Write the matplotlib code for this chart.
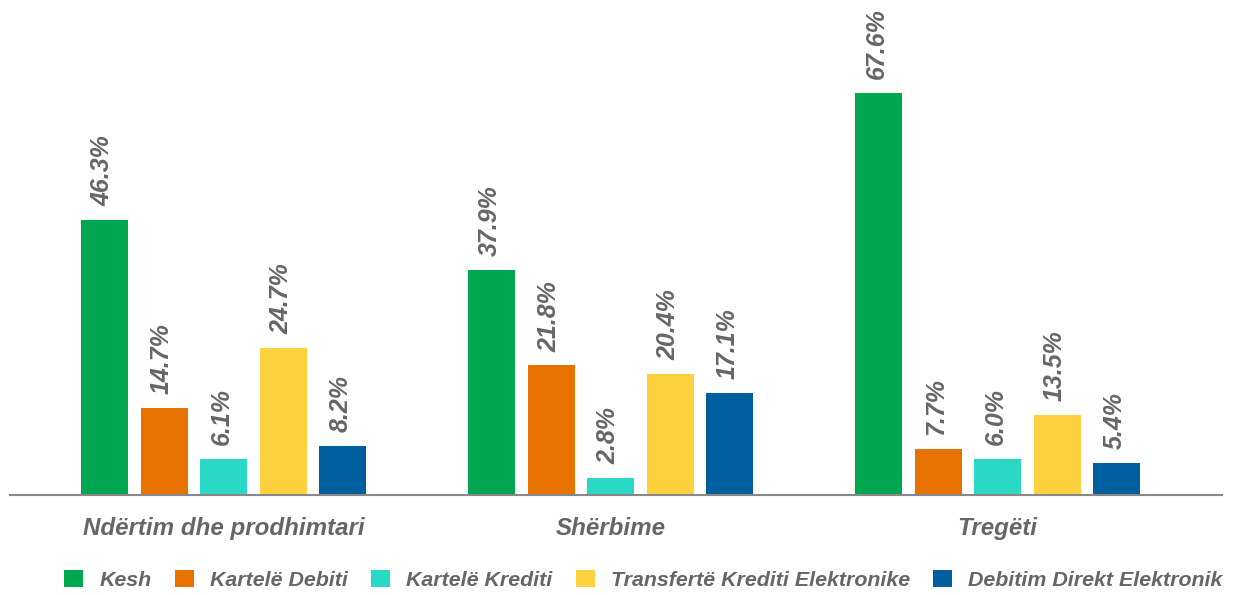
import matplotlib
matplotlib.use("Agg")
import matplotlib.pyplot as plt
import numpy as np

categories = ["Ndërtim dhe prodhimtari", "Shërbime", "Tregëti"]
series_names = ["Kesh", "Kartelë Debiti", "Kartelë Krediti",
                "Transfertë Krediti Elektronike", "Debitim Direkt Elektronik"]
kesh = [46.3, 37.9, 67.6]
kartele_debiti = [14.7, 21.8, 7.7]
kartele_krediti = [6.1, 2.8, 6.0]
transferte = [24.7, 20.4, 13.5]
debitim = [8.2, 17.1, 5.4]
series_values = [kesh, kartele_debiti, kartele_krediti, transferte, debitim]
colors = ["#00A650", "#E87200", "#2AD9C5", "#FDD03D", "#005F9E"]

plt.rcParams['font.family'] = ['Liberation Sans', 'DejaVu Sans']
text_color = "#666666"

fig = plt.figure(figsize=(12.35, 5.95), dpi=100)
W, H = 1235, 595
ax = fig.add_axes([10 / W, (H - 495) / H, 1212 / W, 495 / H])

x = np.arange(len(categories))
width = 0.1214
step = 0.1537
for i, (name, vals, c) in enumerate(zip(series_names, series_values, colors)):
    pos = x + (i - 2) * step
    bars = ax.bar(pos, vals, width=width, color=c, label=name, zorder=2)
    for b, v in zip(bars, vals):
        ax.annotate(f"{v:.1f}%", (b.get_x() + b.get_width() / 2, v),
                    xytext=(-1.5, 10), textcoords="offset points",
                    rotation=90, ha="center", va="bottom",
                    fontsize=18, fontweight="bold", fontstyle="italic",
                    color=text_color)

ax.set_xlim(-0.552, 2.58)
ax.set_ylim(0, 83.3)
for s in ["top", "right", "left"]:
    ax.spines[s].set_visible(False)
ax.spines["bottom"].set_color("#888888")
ax.spines["bottom"].set_linewidth(1.5)
ax.set_yticks([])
ax.set_xticks(x)
ax.set_xticklabels(categories, fontsize=17.4, fontweight="bold",
                   fontstyle="italic", color=text_color)
ax.tick_params(axis="x", length=0, pad=16)

leg = fig.legend(loc="center", bbox_to_anchor=(643.5 / W, (H - 580) / H), ncol=5,
                 frameon=False, fontsize=15.4, handlelength=0.88, handleheight=0.88,
                 handletextpad=0.75, columnspacing=1.1, borderaxespad=0)
for t in leg.get_texts():
    t.set_color(text_color)
    t.set_fontweight("bold")
    t.set_fontstyle("italic")

fig.savefig("out.png", dpi=100)
